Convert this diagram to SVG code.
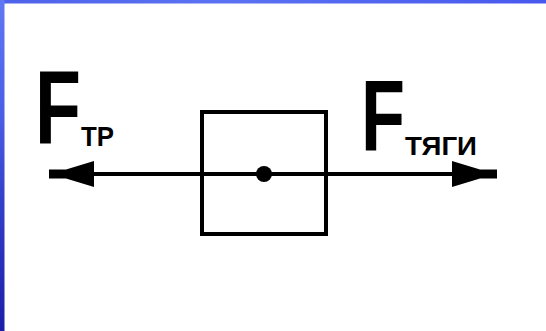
<svg xmlns="http://www.w3.org/2000/svg" width="546" height="331" viewBox="0 0 546 331">
  <defs>
    <linearGradient id="leftBar" x1="0" y1="0" x2="0" y2="1">
      <stop offset="0" stop-color="#5f78f4"/>
      <stop offset="0.35" stop-color="#4a5ee6"/>
      <stop offset="0.6" stop-color="#3440cc"/>
      <stop offset="1" stop-color="#1c1ea8"/>
    </linearGradient>
    <linearGradient id="topBar" x1="0" y1="0" x2="1" y2="0">
      <stop offset="0" stop-color="#4e62ea"/>
      <stop offset="0.4" stop-color="#5a72f2"/>
      <stop offset="1" stop-color="#4858ee"/>
    </linearGradient>
    <marker id="arrow" markerUnits="userSpaceOnUse" markerWidth="46" markerHeight="28" refX="45" refY="14" orient="auto-start-reverse">
      <path d="M0,1 L28,9.5 L45,9.5 L45,18.5 L28,18.5 L0,27 Z" fill="#000"/>
    </marker>
    <style>
      .lbl { font-family: "Liberation Sans", Arial, sans-serif; font-weight: bold; fill: #000; }
      .sub { font-variant: small-caps; }
      .conn { stroke: #000; stroke-width: 4; fill: none; }
    </style>
  </defs>

  <rect x="0" y="0" width="546" height="331" fill="#ffffff"/>
  <rect x="0" y="0" width="546" height="3.5" fill="url(#topBar)"/>
  <rect x="0" y="0" width="4.5" height="331" fill="url(#leftBar)"/>

  <g id="connectors">
    <line class="conn" x1="49" y1="174" x2="497" y2="174" marker-start="url(#arrow)" marker-end="url(#arrow)"/>
  </g>

  <g id="body">
    <rect x="202" y="112" width="124" height="122" fill="none" stroke="#000" stroke-width="4"/>
    <circle cx="264" cy="174" r="8" fill="#000"/>
  </g>

  <g id="label-friction">
    <text class="lbl" transform="translate(35,143) scale(0.73,1)" font-size="103">F</text>
    <text class="lbl sub" x="81" y="146" font-size="40" textLength="33" lengthAdjust="spacingAndGlyphs">тр</text>
  </g>

  <g id="label-traction">
    <text class="lbl" transform="translate(361,150) scale(0.72,1)" font-size="100">F</text>
    <text class="lbl sub" x="405" y="155" font-size="36" textLength="72" lengthAdjust="spacingAndGlyphs">тяги</text>
  </g>
</svg>
